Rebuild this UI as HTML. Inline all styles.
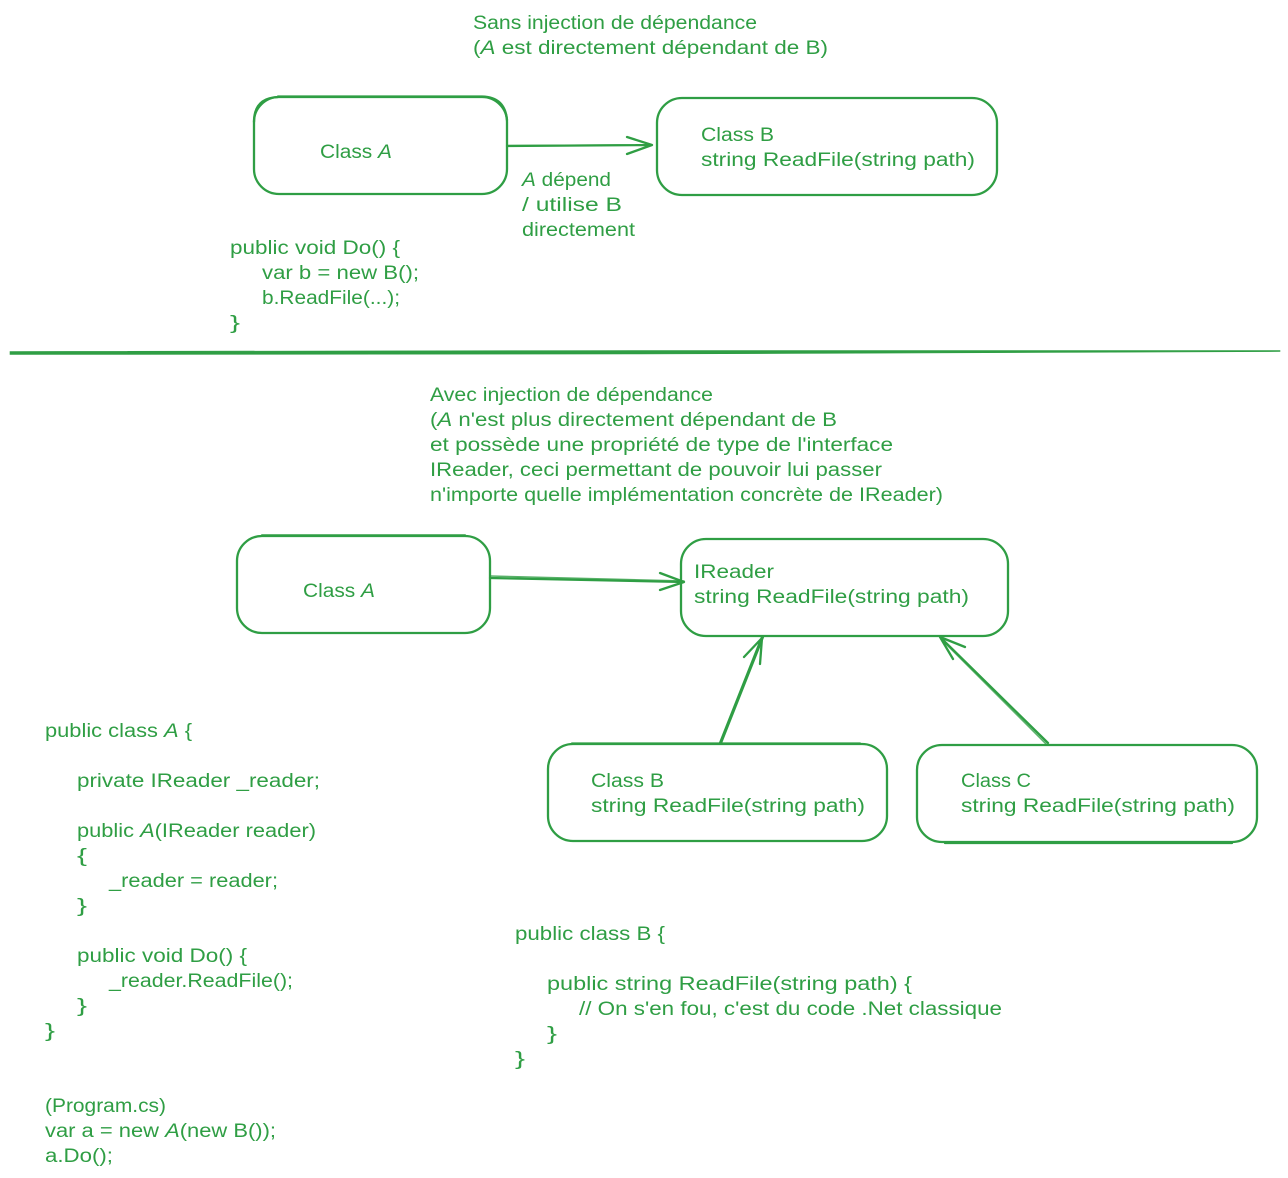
<!DOCTYPE html>
<html><head><meta charset="utf-8"><style>
html,body{margin:0;padding:0;background:#fff}
svg{display:block}
text{font-family:"Liberation Sans",sans-serif;font-size:19px;fill:#2f9e44}
i,.i{font-style:italic}
.s{fill:none;stroke:#2f9e44;stroke-width:2.3;stroke-linecap:round;stroke-linejoin:round}
.t{stroke-width:1.5;opacity:.8}
</style></head><body>
<svg width="1288" height="1178" viewBox="0 0 1288 1178" xmlns="http://www.w3.org/2000/svg">
<rect width="1288" height="1178" fill="#fff"/>
<!-- boxes -->
<rect class="s" x="254" y="97" width="253" height="97" rx="25"/>
<path class="s" d="M278 96.5H482Q505 97 507 120M254 122Q254 98 278 97"/>
<rect class="s" x="657" y="98" width="340" height="97" rx="25"/>
<path d="M10 351.5L640 350.5L1280 350.5L1280 351.5L640 354L10 354.5Z" fill="#2f9e44" stroke="#2f9e44" stroke-width=".6"/>
<rect class="s" x="237" y="536" width="253" height="97" rx="25"/>
<path class="s" d="M262 535.4H465"/>
<rect class="s" x="681" y="539" width="327" height="97" rx="25"/>
<rect class="s" x="548" y="744" width="339" height="97" rx="25"/>
<path class="s" d="M572 743.5H860"/>
<rect class="s" x="917" y="745" width="340" height="97" rx="25"/>
<path class="s" d="M945 843H1232"/>
<!-- arrows -->
<path class="s" d="M507 146L652 145M627 137L652 145L627 154"/>
<path class="s t" d="M507 145.5L652 145"/>
<path class="s" d="M490 578L684 582M660 573L684 582L660 590"/>
<path class="s t" d="M490 576L684 581"/>
<path class="s" d="M720 743L762 637M744 657L762 638L760 664"/>
<path class="s" d="M721 743L763 637"/>
<path class="s" d="M1048 743L940 637M965 647L940 637L953 659"/>
<path class="s t" d="M1046 744L942 640"/>
<!-- text -->
<g transform="translate(0,1)">
<text x="473" y="28" textLength="284" lengthAdjust="spacingAndGlyphs">Sans injection de dépendance</text>
<text x="473" y="53" textLength="355" lengthAdjust="spacingAndGlyphs">(<tspan class="i">A</tspan> est directement dépendant de B)</text>
<text x="320" y="157" textLength="72" lengthAdjust="spacingAndGlyphs">Class <tspan class="i">A</tspan></text>
<text x="701" y="140" textLength="73" lengthAdjust="spacingAndGlyphs">Class B</text>
<text x="701" y="165" textLength="274" lengthAdjust="spacingAndGlyphs">string ReadFile(string path)</text>
<text x="522" y="185" textLength="89" lengthAdjust="spacingAndGlyphs"><tspan class="i">A</tspan> dépend</text>
<text x="522" y="210" textLength="100" lengthAdjust="spacingAndGlyphs">/ utilise B</text>
<text x="522" y="235" textLength="113" lengthAdjust="spacingAndGlyphs">directement</text>
<text x="230" y="253" textLength="170" lengthAdjust="spacingAndGlyphs">public void Do() {</text>
<text x="262" y="278" textLength="157" lengthAdjust="spacingAndGlyphs">var b = new B();</text>
<text x="262" y="303" textLength="138" lengthAdjust="spacingAndGlyphs">b.ReadFile(...);</text>
<text x="230" y="328" textLength="10" lengthAdjust="spacingAndGlyphs">}</text>
<text x="430" y="400" textLength="283" lengthAdjust="spacingAndGlyphs">Avec injection de dépendance</text>
<text x="430" y="425" textLength="407" lengthAdjust="spacingAndGlyphs">(<tspan class="i">A</tspan> n'est plus directement dépendant de B</text>
<text x="430" y="450" textLength="463" lengthAdjust="spacingAndGlyphs">et possède une propriété de type de l'interface</text>
<text x="430" y="475" textLength="452" lengthAdjust="spacingAndGlyphs">IReader, ceci permettant de pouvoir lui passer</text>
<text x="430" y="500" textLength="513" lengthAdjust="spacingAndGlyphs">n'importe quelle implémentation concrète de IReader)</text>
<text x="303" y="596" textLength="72" lengthAdjust="spacingAndGlyphs">Class <tspan class="i">A</tspan></text>
<text x="694" y="577" textLength="80" lengthAdjust="spacingAndGlyphs">IReader</text>
<text x="694" y="602" textLength="275" lengthAdjust="spacingAndGlyphs">string ReadFile(string path)</text>
<text x="591" y="786" textLength="73" lengthAdjust="spacingAndGlyphs">Class B</text>
<text x="591" y="811" textLength="274" lengthAdjust="spacingAndGlyphs">string ReadFile(string path)</text>
<text x="961" y="786" textLength="70" lengthAdjust="spacingAndGlyphs">Class C</text>
<text x="961" y="811" textLength="274" lengthAdjust="spacingAndGlyphs">string ReadFile(string path)</text>
<text x="45" y="736" textLength="147" lengthAdjust="spacingAndGlyphs">public class <tspan class="i">A</tspan> {</text>
<text x="77" y="786" textLength="243" lengthAdjust="spacingAndGlyphs">private IReader _reader;</text>
<text x="77" y="836" textLength="239" lengthAdjust="spacingAndGlyphs">public <tspan class="i">A</tspan>(IReader reader)</text>
<text x="77" y="861" textLength="10" lengthAdjust="spacingAndGlyphs">{</text>
<text x="109" y="886" textLength="169" lengthAdjust="spacingAndGlyphs">_reader = reader;</text>
<text x="77" y="911" textLength="10" lengthAdjust="spacingAndGlyphs">}</text>
<text x="77" y="961" textLength="170" lengthAdjust="spacingAndGlyphs">public void Do() {</text>
<text x="109" y="986" textLength="184" lengthAdjust="spacingAndGlyphs">_reader.ReadFile();</text>
<text x="77" y="1011" textLength="10" lengthAdjust="spacingAndGlyphs">}</text>
<text x="45" y="1036" textLength="10" lengthAdjust="spacingAndGlyphs">}</text>
<text x="45" y="1111" textLength="121" lengthAdjust="spacingAndGlyphs">(Program.cs)</text>
<text x="45" y="1136" textLength="231" lengthAdjust="spacingAndGlyphs">var a = new <tspan class="i">A</tspan>(new B());</text>
<text x="45" y="1161" textLength="68" lengthAdjust="spacingAndGlyphs">a.Do();</text>
<text x="515" y="939" textLength="150" lengthAdjust="spacingAndGlyphs">public class B {</text>
<text x="547" y="989" textLength="365" lengthAdjust="spacingAndGlyphs">public string ReadFile(string path) {</text>
<text x="579" y="1014" textLength="423" lengthAdjust="spacingAndGlyphs">// On s'en fou, c'est du code .Net classique</text>
<text x="547" y="1039" textLength="10" lengthAdjust="spacingAndGlyphs">}</text>
<text x="515" y="1064" textLength="10" lengthAdjust="spacingAndGlyphs">}</text>
</g>
</svg>
</body></html>
